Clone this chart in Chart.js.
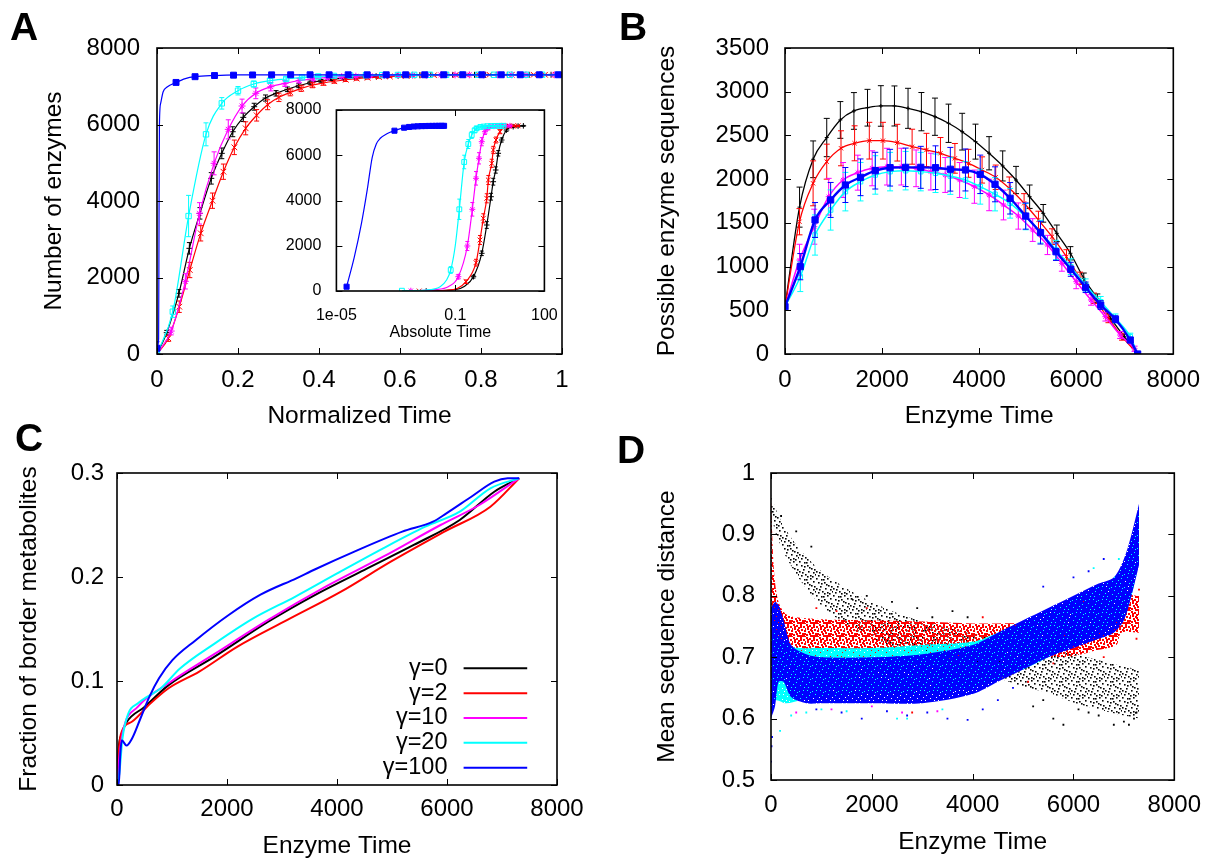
<!DOCTYPE html>
<html>
<head>
<meta charset="utf-8">
<title>Enzyme evolution panels</title>
<script src="https://cdn.jsdelivr.net/npm/chart.js@4.4.1/dist/chart.umd.min.js"></script>
<style>
  html, body { margin: 0; padding: 0; background: #fff; }
  #page { position: relative; width: 1214px; height: 859px; overflow: hidden; }
  #page canvas { position: absolute; left: 0; top: 0; }
  .tag { position: absolute; font: bold 39px "Liberation Sans", Arial, sans-serif; line-height: 1; color: #000; }
</style>
</head>
<body>
<div id="page">
  <canvas id="chartA" width="1214" height="859"></canvas>
  <canvas id="chartInset" width="1214" height="859"></canvas>
  <canvas id="chartB" width="1214" height="859"></canvas>
  <canvas id="chartC" width="1214" height="859"></canvas>
  <canvas id="chartD" width="1214" height="859"></canvas>
  <div class="tag" style="left:10px;top:7px">A</div>
  <div class="tag" style="left:619px;top:7px">B</div>
  <div class="tag" style="left:15px;top:418px">C</div>
  <div class="tag" style="left:617px;top:430px">D</div>
</div>
<script>
var BLACK = "#000000", RED = "#ff0000", MAGENTA = "#ff00ff", CYAN = "#00ffff", BLUE = "#0000ff";
var gammaLabels = ["γ=0", "γ=2", "γ=10", "γ=20", "γ=100"];

// ---- A: number of enzymes vs normalized time (markers + error bars) ----
var aX0 = [0,0.024,0.054,0.080,0.106,0.134,0.160,0.187,0.213,0.240,0.268,0.294,0.322,0.350,0.378,0.405,0.432,0.460,0.487,0.514,0.541,0.568,0.595,0.622,0.649,0.676,0.703,0.730,0.757,0.784,0.811,0.838,0.865,0.892,0.919,0.946,0.973,1.0];
var aY0 = [0,557,1587,2763,3677,4592,5246,5811,6187,6465,6692,6815,6920,7014,7092,7140,7180,7210,7235,7250,7262,7272,7280,7285,7290,7293,7295,7297,7298,7299,7300,7300,7300,7300,7300,7300,7300,7300];
var aE0 = [0,60,100,150,150,150,140,130,110,90,80,70,60,50,40,35,30,25,20,20,15,15,15,10,10,10,10,10,10,10,10,10,10,10,10,10,10,10];
var aX2 = [0,0.028,0.055,0.081,0.108,0.137,0.164,0.191,0.219,0.246,0.273,0.301,0.329,0.356,0.384,0.411,0.438,0.466,0.493,0.520,0.548,0.575,0.602,0.630,0.657,0.684,0.712,0.739,0.766,0.794,0.821,0.848,0.876,0.903,0.930,0.958,0.985];
var aY2 = [0,410,1237,2196,3155,4008,4766,5403,5900,6240,6517,6710,6840,6945,7032,7085,7130,7170,7200,7222,7240,7255,7265,7275,7282,7288,7292,7295,7297,7299,7300,7300,7300,7300,7300,7300,7300];
var aE2 = [0,80,150,200,200,200,200,190,170,150,130,110,90,80,70,60,50,45,40,35,30,25,20,20,15,15,15,10,10,10,10,10,10,10,10,10,10];
var aX10 = [0,0.035,0.070,0.105,0.141,0.176,0.210,0.244,0.281,0.316,0.351,0.386,0.421,0.456,0.491,0.526,0.561,0.596,0.631,0.666,0.701,0.736,0.771,0.806,0.841,0.876,0.911,0.946,0.981];
var aY10 = [0,600,1900,3677,4985,5873,6483,6815,6988,7075,7150,7195,7225,7248,7262,7272,7280,7286,7290,7293,7295,7297,7298,7299,7300,7300,7300,7300,7300];
var aE10 = [0,100,200,280,300,250,180,140,110,80,60,50,40,30,25,20,20,15,15,15,10,10,10,10,10,10,10,10,10];
var aX20 = [0,0.039,0.078,0.121,0.160,0.200,0.239,0.279,0.319,0.358,0.398,0.437,0.477,0.516,0.556,0.595,0.635,0.674,0.714,0.753,0.793,0.832,0.872,0.911,0.951,0.990];
var aY20 = [0,1106,3607,5743,6553,6883,7058,7144,7190,7232,7255,7270,7280,7288,7292,7295,7298,7300,7300,7300,7300,7300,7300,7300,7300,7300];
var aE20 = [30,150,540,300,150,110,80,60,50,40,30,25,20,20,15,15,15,10,10,10,10,10,10,10,10,10];
var aX100 = [0,0.047,0.094,0.142,0.189,0.236,0.283,0.330,0.378,0.425,0.472,0.519,0.566,0.614,0.661,0.708,0.755,0.802,0.850,0.897,0.944,0.991];
var aY100 = [150,7100,7250,7280,7290,7295,7298,7300,7300,7300,7300,7300,7300,7300,7300,7300,7300,7300,7300,7300,7300,7300];
var aE100 = [170,40,20,0,0,0,0,0,0,0,0,0,0,0,0,0,0,0,0,0,0,0];
var aLineX100 = [0,0.004,0.005,0.006,0.009,0.015,0.025,0.047,0.07,0.094,0.142,0.2,0.4,1];
var aLineY100 = [150,400,3500,6000,6550,6850,6980,7100,7200,7250,7280,7295,7300,7300];

// ---- A inset: absolute time (log axis) ----
var inXTicks = [1e-5, 0.1, 100];
var inXTickLabels = ["1e-05", "0.1", "100"];
var inLineT0 = [0.0105,0.1,0.2,0.41,0.78,1.15,1.6,1.9,2.3,2.8,3.65,5.3,8.9,19.6];
var inLineV0 = [0,60,200,632,1666,2917,4168,4831,5348,6086,6674,7116,7262,7300];
var inMarkT0 = [0.0105,0.41,0.78,1.15,1.6,1.9,2.3,2.8,3.65,5.3,8.9,13,19.6];
var inMarkV0 = [0,632,1666,2917,4168,4831,5348,6086,6674,7116,7262,7290,7300];
var inErr0 = [0,60,100,150,150,150,140,120,90,60,40,30,20];
var inLineT2 = [0.0061,0.05,0.12,0.23,0.5,0.68,0.88,1.15,1.3,1.69,1.91,2.35,3.2,4.7,13];
var inLineV2 = [0,30,120,411,1251,2254,3213,4097,4906,5644,6232,6674,7041,7262,7300];
var inMarkT2 = [0.0061,0.23,0.5,0.68,0.88,1.15,1.3,1.69,1.91,2.35,3.2,4.7,6.5,9,13];
var inMarkV2 = [0,411,1251,2254,3213,4097,4906,5644,6232,6674,7041,7262,7290,7298,7300];
var inErr2 = [0,80,150,200,200,200,200,180,160,130,90,60,40,30,20];
var inLineT10 = [0.0032,0.02,0.06,0.127,0.255,0.375,0.5,0.63,0.78,1.0,1.48,6.9];
var inLineV10 = [13,60,200,632,1989,3611,4981,5865,6599,7041,7262,7300];
var inMarkT10 = [0.0032,0.127,0.255,0.375,0.5,0.63,0.78,1.0,1.25,1.48,2,2.7,3.6,4.8,6.9];
var inMarkV10 = [13,632,1989,3611,4981,5865,6599,7041,7200,7262,7285,7293,7298,7300,7300];
var inErr10 = [0,100,200,300,300,250,180,120,80,60,40,30,20,15,10];
var inLineT20 = [0.0016,0.01,0.031,0.051,0.0703,0.1,0.137,0.2,0.275,0.358,0.525,1,4.2];
var inLineV20 = [13,40,190,486,928,2000,3611,5702,6497,6895,7191,7280,7300];
var inMarkT20 = [0.0016,0.0703,0.137,0.2,0.275,0.358,0.45,0.525,0.7,0.9,1.2,1.6,2.1,2.8,3.5,4.2];
var inMarkV20 = [13,928,3611,5702,6497,6895,7100,7191,7250,7270,7285,7292,7296,7299,7300,7300];
var inErr20 = [0,150,450,300,200,150,100,80,50,40,30,20,15,10,10,10];
var inLineT100 = [2.2e-5,4e-5,7e-5,1.1e-4,1.6e-4,2.2e-4,3e-4,5e-4,9e-4,1.9e-3,5e-3,0.015,0.042];
var inLineV100 = [190,1500,3000,4500,5900,6500,6750,6950,7085,7218,7270,7290,7300];
var inMarkT100 = [2.2e-5,9e-4,1.9e-3,2.8e-3,4e-3,5.5e-3,7.5e-3,0.01,0.013,0.017,0.022,0.028,0.035,0.042];
var inMarkV100 = [190,7085,7218,7250,7270,7280,7288,7292,7295,7297,7299,7300,7300,7300];
var inErr100 = [60,20,10,0,0,0,0,0,0,0,0,0,0,0];

// ---- B: possible enzyme sequences vs enzyme time ----
var bX0 = [0,300,580,860,1140,1420,1700,1975,2255,2535,2810,3090,3370,3650,3925,4205,4485,4760,5040,5320,5600,5880,6155,6435,6710,6990,7265];
var bY0 = [541,1680,2227,2476,2677,2780,2817,2837,2837,2810,2772,2714,2639,2543,2429,2296,2151,1990,1799,1609,1380,1152,866,637,408,198,0];
var bE0 = [0,229,210,219,210,210,210,232,229,229,219,213,219,210,200,190,172,156,134,101,95,76,60,50,40,30,0];
var bX2 = [0,299,579,860,1154,1434,1737,2018,2314,2619,2915,3203,3500,3780,4060,4341,4621,4926,5222,5502,5799,6079,6367,6664,6944,7265];
var bY2 = [541,1513,1952,2200,2353,2410,2440,2440,2417,2371,2334,2296,2238,2181,2105,2021,1895,1724,1533,1342,1113,866,637,408,198,0];
var bE2 = [0,150,257,200,200,200,210,210,210,200,190,180,170,160,150,140,130,110,100,90,80,70,60,50,40,0];
var bX10 = [0,299,603,900,1196,1500,1796,2101,2397,2701,3005,3301,3598,3902,4206,4502,4807,5103,5408,5704,6000,6305,6601,6905,7201,7265];
var bY10 = [541,1075,1456,1799,1990,2074,2124,2143,2143,2124,2086,2048,1990,1914,1819,1704,1578,1418,1247,1037,827,618,427,217,60,0];
var bE10 = [0,180,200,210,200,200,200,210,210,210,210,200,200,190,180,170,150,130,110,90,80,60,50,40,30,0];
var bX20 = [0,315,619,940,1244,1556,1860,2165,2485,2797,3101,3406,3718,4022,4327,4638,4959,5264,5583,5888,6193,6504,6808,7113,7265];
var bY20 = [541,884,1361,1647,1857,1971,2048,2086,2097,2086,2067,2036,1990,1914,1827,1724,1571,1399,1190,999,789,598,408,198,0];
var bE20 = [0,170,230,230,220,220,220,220,220,220,220,210,210,200,190,170,150,130,110,90,70,60,50,40,0];
var bX100 = [0,315,619,940,1244,1556,1860,2165,2485,2797,3101,3406,3718,4022,4327,4638,4959,5264,5583,5888,6193,6504,6808,7113,7265];
var bY100 = [541,999,1533,1762,1933,2021,2097,2131,2135,2135,2131,2113,2105,2055,1941,1781,1578,1388,1170,969,763,560,397,160,0];
var bE100 = [0,150,200,200,200,210,210,210,220,240,250,250,240,220,200,180,150,130,100,80,60,50,40,30,0];

// ---- C: fraction of border metabolites vs enzyme time ----
var cX0 = [0,30,80,171,500,938,1774,2749,3655,4491,5396,6232,6860,7313];
var cY0 = [0,0.035,0.048,0.06,0.075,0.096,0.1234,0.157,0.1843,0.2067,0.2308,0.2548,0.282,0.295];
var cX2 = [0,30,67,276,600,938,1495,2191,3098,4073,4978,5953,6789,7313];
var cY2 = [0,0.03,0.048,0.061,0.078,0.093,0.109,0.133,0.1587,0.1859,0.2147,0.2436,0.2676,0.295];
var cX10 = [0,30,102,381,938,1774,2749,3794,4839,5883,6580,7313];
var cY10 = [0,0.02,0.05,0.0753,0.0978,0.126,0.1587,0.1907,0.2195,0.25,0.269,0.295];
var cX20 = [0,40,100,207,381,555,798,1145,1774,2471,3236,4003,4839,5605,6232,6789,7313];
var cY20 = [0,0.01,0.045,0.069,0.0785,0.085,0.093,0.112,0.136,0.160,0.181,0.2035,0.2276,0.2484,0.2628,0.2853,0.295];
var cX100 = [0,32,60,87,171,276,415,590,764,1007,1425,2018,2609,3271,3585,4316,5187,5745,5989,6442,6860,7103,7313];
var cY100 = [0,0,0.03,0.043,0.038,0.045,0.0625,0.085,0.1026,0.120,0.139,0.163,0.183,0.199,0.207,0.2244,0.2436,0.2532,0.2612,0.2772,0.2917,0.2949,0.295];

// ---- D: mean sequence distance, extent of each point cloud (lower / upper edge) ----
var dX0 = [0,100,300,600,1000,1500,2000,2500,3000,3500,4000,4500,5000,5500,6000,6500,7000,7300];
var dLo0 = [0.935,0.90,0.863,0.823,0.784,0.752,0.73,0.712,0.698,0.688,0.678,0.666,0.652,0.642,0.626,0.615,0.605,0.60];
var dHi0 = [0.965,0.94,0.907,0.873,0.84,0.812,0.79,0.772,0.758,0.748,0.738,0.73,0.722,0.712,0.706,0.695,0.685,0.68];
var dX2 = [0,60,150,300,500,1000,2000,3000,4000,4500,5000,5500,6000,6500,6850,6950,7300];
var dLo2 = [0.74,0.75,0.735,0.71,0.70,0.698,0.697,0.70,0.70,0.70,0.70,0.70,0.702,0.712,0.72,0.74,0.74];
var dHi2 = [0.96,0.84,0.79,0.77,0.765,0.762,0.76,0.758,0.755,0.755,0.755,0.752,0.752,0.755,0.76,0.80,0.80];
var dX20 = [0,100,300,600,1000,2000,3000,4000,4500,5000,5500,6000,6500,6800,7000,7150,7300];
var dLo20 = [0.62,0.63,0.625,0.63,0.635,0.64,0.64,0.65,0.665,0.68,0.70,0.72,0.74,0.755,0.77,0.80,0.86];
var dHi20 = [0.75,0.74,0.72,0.715,0.715,0.715,0.72,0.725,0.74,0.755,0.775,0.795,0.815,0.83,0.85,0.89,0.94];
var dX100 = [0,80,150,250,400,700,1000,2000,3000,4000,4500,5000,5500,6000,6500,6800,7000,7150,7300];
var dLo100 = [0.60,0.62,0.66,0.66,0.635,0.625,0.625,0.625,0.625,0.64,0.66,0.68,0.70,0.715,0.73,0.74,0.76,0.80,0.85];
var dHi100 = [0.78,0.79,0.785,0.76,0.72,0.705,0.70,0.70,0.705,0.72,0.74,0.76,0.78,0.80,0.82,0.83,0.86,0.90,0.95];
// scattered points lying outside the dense clouds
var dOutX0 = [1600,1900,2400,2900,3200,3600,3900,5200,5400,5600,5800,6100,6300,6500,6800,7000,7100,7200,7250,200,500,800];
var dOutY0 = [0.795,0.80,0.79,0.78,0.765,0.775,0.765,0.62,0.63,0.60,0.59,0.615,0.61,0.605,0.59,0.595,0.59,0.60,0.61,0.93,0.905,0.88];
var dOutX2 = [900,1300,1900,2300,2800,3200,3700,4200,5100,5600,6200,6600,7250,7300];
var dOutY2 = [0.78,0.775,0.78,0.69,0.61,0.67,0.685,0.765,0.66,0.69,0.79,0.70,0.73,0.81];
var dOutX10 = [500,1200,2000,2600,3300,6900,7100,7200];
var dOutY10 = [0.61,0.615,0.62,0.61,0.612,0.78,0.82,0.86];
var dOutX20 = [180,400,700,1000,1500,2500,2700,3400,6400,6900];
var dOutY20 = [0.58,0.605,0.61,0.615,0.612,0.60,0.60,0.615,0.845,0.86];
var dOutX100 = [0,10,20,30,900,1400,1800,2300,2700,3100,3500,3900,4200,4500,4800,5400,6000,6300,6600];
var dOutY100 = [0.53,0.555,0.57,0.62,0.615,0.61,0.60,0.612,0.605,0.61,0.60,0.598,0.615,0.63,0.65,0.815,0.83,0.84,0.86];

Chart.defaults.font.family = "'Liberation Sans', Arial, sans-serif";
Chart.defaults.color = "#000";

function pts(xs, ys) {
  return xs.map(function (x, i) { return { x: x, y: ys[i] }; });
}
function num(v) { return String(Math.round(v * 1000) / 1000); }

// vertical error bars, drawn right after their own dataset
var errorBars = {
  id: "errorBars",
  afterDatasetDraw: function (chart, args) {
    var ds = chart.data.datasets[args.index];
    if (!ds.errs) return;
    var ctx = chart.ctx, a = chart.chartArea, x = chart.scales.x, y = chart.scales.y;
    var cap = ds.capWidth || 2.5;
    ctx.save();
    ctx.beginPath(); ctx.rect(a.left, a.top, a.width, a.height); ctx.clip();
    ctx.strokeStyle = ds.borderColor; ctx.lineWidth = 1;
    ctx.beginPath();
    ds.data.forEach(function (p, i) {
      var e = ds.errs[i];
      if (!e) return;
      var px = x.getPixelForValue(p.x), y1 = y.getPixelForValue(p.y - e), y2 = y.getPixelForValue(p.y + e);
      ctx.moveTo(px, y1); ctx.lineTo(px, y2);
      ctx.moveTo(px - cap, y1); ctx.lineTo(px + cap, y1);
      ctx.moveTo(px - cap, y2); ctx.lineTo(px + cap, y2);
    });
    ctx.stroke();
    ctx.restore();
  }
};

// gnuplot style box with inward ticks on all four sides
var frame = {
  id: "frame",
  afterDatasetsDraw: function (chart, args, o) {
    var ctx = chart.ctx, a = chart.chartArea, x = chart.scales.x, y = chart.scales.y;
    var L = o.tick || 6;
    ctx.save();
    ctx.strokeStyle = "#000"; ctx.lineWidth = 1;
    ctx.beginPath();
    x.ticks.forEach(function (t) {
      var p = Math.round(x.getPixelForValue(t.value)) + 0.5;
      ctx.moveTo(p, a.bottom); ctx.lineTo(p, a.bottom - L);
      ctx.moveTo(p, a.top); ctx.lineTo(p, a.top + L);
    });
    y.ticks.forEach(function (t) {
      var p = Math.round(y.getPixelForValue(t.value)) + 0.5;
      ctx.moveTo(a.left, p); ctx.lineTo(a.left + L, p);
      ctx.moveTo(a.right, p); ctx.lineTo(a.right - L, p);
    });
    ctx.stroke();
    ctx.lineWidth = 1.6;
    ctx.strokeRect(a.left, a.top, a.width, a.height);
    ctx.restore();
  }
};

var whiteArea = {
  id: "whiteArea",
  beforeDraw: function (chart) {
    var a = chart.chartArea, ctx = chart.ctx;
    ctx.save(); ctx.fillStyle = "#fff"; ctx.fillRect(a.left, a.top, a.width, a.height); ctx.restore();
  }
};

var gammaLegend = {
  id: "gammaLegend",
  afterDraw: function (chart, args, o) {
    var ctx = chart.ctx, a = chart.chartArea;
    ctx.save();
    ctx.font = o.size + "px 'Liberation Sans', Arial, sans-serif";
    ctx.textAlign = "right"; ctx.textBaseline = "middle";
    o.labels.forEach(function (lab, i) {
      var yy = a.bottom - o.firstRow + i * o.rowGap;
      ctx.fillStyle = "#000";
      ctx.fillText(lab, a.right - o.textGap, yy);
      ctx.strokeStyle = o.colors[i]; ctx.lineWidth = 2;
      ctx.beginPath(); ctx.moveTo(a.right - o.lineStart, yy); ctx.lineTo(a.right - o.lineEnd, yy); ctx.stroke();
    });
    ctx.restore();
  }
};

function makeChart(id, g, datasets, extra) {
  var halfT = g.titleSize / 2;
  var padL = g.yTitle ? g.yTitleX - halfT : g.L - g.yWidth;
  var padB = 859 - (g.xTitleY + halfT);
  var tickFont = { size: g.tickSize, lineHeight: 1 };
  var titleFont = { size: g.titleSize, lineHeight: 1 };
  var xScale = {
    type: g.xLog ? "logarithmic" : "linear",
    position: "bottom",
    min: g.xMin, max: g.xMax,
    grid: { display: false, drawTicks: false },
    border: { display: false },
    ticks: { font: tickFont, padding: g.xPad, maxRotation: 0, minRotation: 0, autoSkip: false, stepSize: g.xStep, callback: g.xLabel || num },
    title: { display: true, text: g.xTitle, font: titleFont, padding: 0 },
    afterFit: function (s) { s.height = (859 - padB) - g.B; }
  };
  if (g.xTickValues) {
    xScale.afterBuildTicks = function (s) { s.ticks = g.xTickValues.map(function (v) { return { value: v }; }); };
  }
  return new Chart(document.getElementById(id), {
    type: "line",
    data: { datasets: datasets },
    options: {
      responsive: false,
      animation: false,
      events: [],
      layout: { padding: { left: padL, top: g.T, right: 1214 - g.R, bottom: padB } },
      plugins: {
        legend: { display: false },
        tooltip: { enabled: false },
        frame: { tick: g.tick },
        gammaLegend: g.legend || {}
      },
      scales: {
        x: xScale,
        y: {
          type: "linear",
          position: "left",
          min: g.yMin, max: g.yMax,
          grid: { display: false, drawTicks: false },
          border: { display: false },
          ticks: { font: tickFont, padding: g.yPad, stepSize: g.yStep, callback: num },
          title: { display: !!g.yTitle, text: g.yTitle || "", font: titleFont, padding: 0 },
          afterFit: function (s) { s.width = g.L - padL; }
        }
      }
    },
    plugins: [errorBars, frame].concat(extra || [])
  });
}

function lineSet(xs, ys, color, width, order) {
  return { data: pts(xs, ys), borderColor: color, borderWidth: width, pointRadius: 0,
           cubicInterpolationMode: "monotone", fill: false, order: order };
}
function markSet(xs, ys, errs, color, style, radius, order, hollow, cap) {
  return { data: pts(xs, ys), errs: errs, capWidth: cap, showLine: false, borderColor: color,
           backgroundColor: hollow ? "rgba(0,0,0,0)" : color, pointStyle: style, pointRadius: radius,
           pointBorderWidth: 1, order: order };
}
function dotSet(xs, ys, color, order) {
  return { data: pts(xs, ys), showLine: false, pointStyle: "rect", pointRadius: 1.3, pointBorderWidth: 0,
           backgroundColor: color, borderColor: color, order: order };
}
// fill texture for the dense point clouds (hand placed dots / holes in one tile)
function speckle(color, size, dots, dot, solid) {
  var c = document.createElement("canvas");
  c.width = c.height = size;
  var g = c.getContext("2d");
  g.fillStyle = color;
  if (solid) {
    g.fillRect(0, 0, size, size);
    dots.forEach(function (d) { g.clearRect(d[0], d[1], dot, dot); });
  } else {
    dots.forEach(function (d) { g.fillRect(d[0], d[1], dot, dot); });
  }
  return g.createPattern(c, "repeat");
}
function bandSets(xs, lo, hi, fillStyle, order) {
  var clear = "rgba(0,0,0,0)";
  return [
    { data: pts(xs, lo), borderColor: clear, borderWidth: 0, pointRadius: 0, tension: 0.3, fill: false, order: order },
    { data: pts(xs, hi), borderColor: clear, borderWidth: 0, pointRadius: 0, tension: 0.3, fill: "-1",
      backgroundColor: fillStyle, order: order }
  ];
}

// ---- A main ----
makeChart("chartA", {
  L: 157, R: 562, T: 48, B: 354, yTitleX: 54, xTitleY: 416, titleSize: 24.5, tickSize: 24,
  xPad: 14, yPad: 17, tick: 6, xMin: 0, xMax: 1, xStep: 0.2, yMin: 0, yMax: 8000, yStep: 2000,
  xTitle: "Normalized Time", yTitle: "Number of enzymes"
}, [
  lineSet(aLineX100, aLineY100, BLUE, 1.2, 1),
  markSet(aX100, aY100, aE100, BLUE, "rect", 4.2, 1, false),
  lineSet(aX20, aY20, CYAN, 1.2, 2),
  markSet(aX20, aY20, aE20, CYAN, "rect", 3.8, 2, true),
  lineSet(aX10, aY10, MAGENTA, 1.2, 3),
  markSet(aX10, aY10, aE10, MAGENTA, "star", 3.5, 3, false),
  lineSet(aX2, aY2, RED, 1.2, 4),
  markSet(aX2, aY2, aE2, RED, "crossRot", 4, 4, false),
  lineSet(aX0, aY0, BLACK, 1.2, 5),
  markSet(aX0, aY0, aE0, BLACK, "cross", 3, 5, false)
]);

// ---- A inset ----
makeChart("chartInset", {
  L: 336.4, R: 544.4, T: 110, B: 291, yWidth: 56, xTitleY: 333, titleSize: 16, tickSize: 16,
  xPad: 17, yPad: 15, tick: 6, xLog: true, xMin: 1e-5, xMax: 100, yMin: 0, yMax: 8000, yStep: 2000,
  xTickValues: inXTicks, xLabel: function (v, i) { return inXTickLabels[i]; },
  xTitle: "Absolute Time"
}, [
  lineSet(inLineT100, inLineV100, BLUE, 1.2, 1),
  markSet(inMarkT100, inMarkV100, inErr100, BLUE, "rect", 3.6, 1, false, 2),
  lineSet(inLineT20, inLineV20, CYAN, 1.2, 2),
  markSet(inMarkT20, inMarkV20, inErr20, CYAN, "rect", 3.4, 2, true, 2),
  lineSet(inLineT10, inLineV10, MAGENTA, 1.2, 3),
  markSet(inMarkT10, inMarkV10, inErr10, MAGENTA, "star", 3, 3, false, 2),
  lineSet(inLineT2, inLineV2, RED, 1.2, 4),
  markSet(inMarkT2, inMarkV2, inErr2, RED, "crossRot", 3.4, 4, false, 2),
  lineSet(inLineT0, inLineV0, BLACK, 1.2, 5),
  markSet(inMarkT0, inMarkV0, inErr0, BLACK, "cross", 2.8, 5, false, 2)
], [whiteArea]);

// ---- B ----
makeChart("chartB", {
  L: 785, R: 1176, T: 48, B: 354, yTitleX: 667, xTitleY: 416, titleSize: 24.5, tickSize: 24,
  xPad: 14, yPad: 16, tick: 6, xMin: 0, xMax: 8000, xStep: 2000, yMin: 0, yMax: 3500, yStep: 500,
  xTitle: "Enzyme Time", yTitle: "Possible enzyme sequences"
}, [
  lineSet(bX100, bY100, BLUE, 2.4, 1),
  markSet(bX100, bY100, bE100, BLUE, "rect", 4.4, 1, false, 3),
  lineSet(bX20, bY20, CYAN, 1.5, 2),
  markSet(bX20, bY20, bE20, CYAN, "rect", 3.2, 2, true, 3),
  lineSet(bX10, bY10, MAGENTA, 1.5, 3),
  markSet(bX10, bY10, bE10, MAGENTA, "star", 3, 3, false, 3),
  lineSet(bX2, bY2, RED, 1.3, 4),
  markSet(bX2, bY2, bE2, RED, "crossRot", 3, 4, false, 3),
  lineSet(bX0, bY0, BLACK, 1.3, 5),
  markSet(bX0, bY0, bE0, BLACK, "cross", 2, 5, false, 3)
]);

// ---- C ----
makeChart("chartC", {
  L: 117, R: 557, T: 473, B: 785, yTitleX: 29, xTitleY: 846, titleSize: 24.5, tickSize: 24,
  xPad: 12, yPad: 13, tick: 6, xMin: 0, xMax: 8000, xStep: 2000, yMin: 0, yMax: 0.3, yStep: 0.1,
  xTitle: "Enzyme Time", yTitle: "Fraction of border metabolites",
  legend: { labels: gammaLabels, colors: [BLACK, RED, MAGENTA, CYAN, BLUE], size: 23.5,
            firstRow: 116.7, rowGap: 24.85, textGap: 109.5, lineStart: 93.4, lineEnd: 29.8 }
}, [
  lineSet(cX100, cY100, BLUE, 2, 1),
  lineSet(cX20, cY20, CYAN, 2, 2),
  lineSet(cX10, cY10, MAGENTA, 2, 3),
  lineSet(cX2, cY2, RED, 2, 4),
  lineSet(cX0, cY0, BLACK, 2, 5)
], [gammaLegend]);

// ---- D ----
var fillBlack = speckle(BLACK, 17, [[0,0],[5,1],[11,0],[14,3],[2,4],[8,4],[12,7],[4,8],[0,10],[9,10],
  [14,11],[6,13],[2,14],[11,14],[7,1],[15,8],[3,11],[10,6],[13,15],[5,5],[8,15],[16,13]], 1.6, false);
var fillRed = speckle(RED, 13, [[0,0],[3,1],[7,0],[10,2],[1,4],[5,3],[8,5],[11,6],[2,7],[6,8],[9,9],
  [0,10],[4,11],[10,11],[7,2],[3,9],[5,6],[11,9],[1,2],[8,11],[6,11],[12,4],[12,12],[4,5]], 2, false);
var fillCyan = speckle(CYAN, 11, [[2,1],[6,3],[1,6],[5,7],[8,8],[9,1],[3,9]], 1, true);
var fillBlue = speckle(BLUE, 13, [[1,1],[6,2],[9,5],[3,6],[7,9],[0,8],[4,3],[11,11],[10,1],[2,11]], 1, true);

makeChart("chartD", {
  L: 771, R: 1176, T: 473, B: 780, yTitleX: 667, xTitleY: 842, titleSize: 24.5, tickSize: 24,
  xPad: 13, yPad: 16, tick: 6, xMin: 0, xMax: 8000, xStep: 2000, yMin: 0.5, yMax: 1, yStep: 0.1,
  xTitle: "Enzyme Time", yTitle: "Mean sequence distance"
}, [].concat(
  bandSets(dX100, dLo100, dHi100, fillBlue, 1),
  [dotSet(dOutX100, dOutY100, BLUE, 1)],
  bandSets(dX20, dLo20, dHi20, fillCyan, 2),
  [dotSet(dOutX20, dOutY20, CYAN, 2)],
  [dotSet(dOutX10, dOutY10, MAGENTA, 3)],
  bandSets(dX2, dLo2, dHi2, fillRed, 4),
  [dotSet(dOutX2, dOutY2, RED, 4)],
  bandSets(dX0, dLo0, dHi0, fillBlack, 5),
  [dotSet(dOutX0, dOutY0, BLACK, 5)]
));
</script>
</body>
</html>
